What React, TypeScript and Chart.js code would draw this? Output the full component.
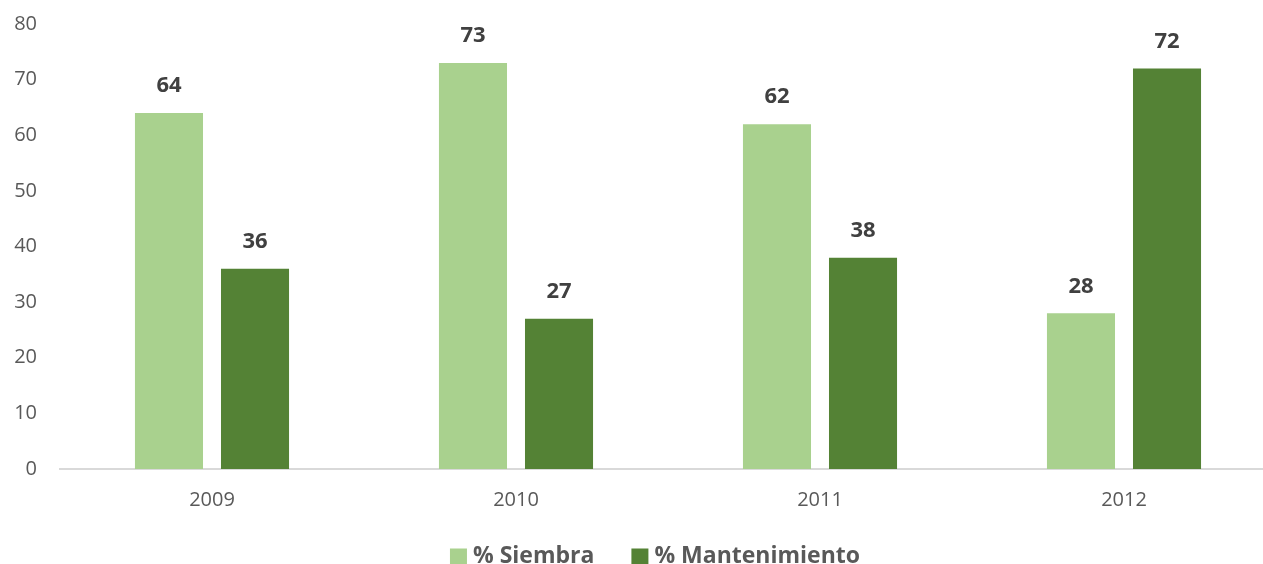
import React, { useEffect, useRef } from "react";
import { Chart, registerables } from "chart.js";

Chart.register(...registerables);

const categories = ["2009", "2010", "2011", "2012"];
const siembra = [64, 73, 62, 28];
const mantenimiento = [36, 27, 38, 72];
const yTicks = [0, 10, 20, 30, 40, 50, 60, 70, 80];

const FONT = "'Open Sans', 'DejaVu Sans', sans-serif";

const valueLabels = {
  id: "valueLabels",
  afterDatasetsDraw(chart: any) {
    const ctx = chart.ctx;
    ctx.save();
    ctx.font = `bold 22px ${FONT}`;
    ctx.fillStyle = "#404040";
    ctx.textAlign = "center";
    ctx.textBaseline = "middle";
    chart.data.datasets.forEach((ds: any, i: number) => {
      const meta = chart.getDatasetMeta(i);
      meta.data.forEach((bar: any, j: number) => {
        ctx.fillText(String(ds.data[j]), bar.x, bar.y - 27);
      });
    });
    ctx.restore();
  },
};

const bottomLegend = {
  id: "bottomLegend",
  afterDraw(chart: any) {
    const ctx = chart.ctx;
    const datasets = chart.data.datasets;
    ctx.save();
    ctx.font = `bold 23px ${FONT}`;
    ctx.textBaseline = "middle";
    ctx.textAlign = "left";
    const box = 17;
    const gapText = 6;
    const gapItem = 37;
    const widths = datasets.map((ds: any) => ctx.measureText(ds.label).width);
    const total =
      widths.reduce((a: number, w: number) => a + box + gapText + w, 0) +
      gapItem * (datasets.length - 1);
    let x = chart.width / 2 - total / 2;
    const cy = chart.chartArea.bottom + 87;
    datasets.forEach((ds: any, i: number) => {
      ctx.fillStyle = ds.backgroundColor;
      ctx.fillRect(x, cy - box / 2 + 1, box, box);
      x += box + gapText;
      ctx.fillStyle = "#595959";
      ctx.fillText(ds.label, x, cy);
      x += widths[i] + gapItem;
    });
    ctx.restore();
  },
};

export default function App() {
  const ref = useRef<HTMLCanvasElement | null>(null);
  useEffect(() => {
    const chart = new Chart(ref.current as HTMLCanvasElement, {
      type: "bar",
      data: {
        labels: categories,
        datasets: [
          {
            label: "% Siembra",
            data: siembra,
            backgroundColor: "#A9D18E",
            barPercentage: 0.791,
            categoryPercentage: 0.566,
          },
          {
            label: "% Mantenimiento",
            data: mantenimiento,
            backgroundColor: "#548235",
            barPercentage: 0.791,
            categoryPercentage: 0.566,
          },
        ],
      },
      options: {
        animation: false,
        responsive: false,
        maintainAspectRatio: false,
        layout: { padding: { top: 24, right: 34, left: 0, bottom: 69 } },
        scales: {
          x: {
            grid: { display: false, drawTicks: false },
            border: { display: true, color: "#D9D9D9", width: 2 },
            ticks: {
              color: "#595959",
              font: { family: FONT, size: 20 },
              padding: 19,
            },
          },
          y: {
            min: 0,
            max: 80,
            afterFit(scale: any) {
              scale.width = 60;
              scale.paddingTop = 0;
              scale.paddingBottom = 0;
            },
            afterBuildTicks(scale: any) {
              scale.ticks = yTicks.map((v) => ({ value: v }));
            },
            grid: { display: false, drawTicks: false },
            border: { display: false },
            ticks: {
              color: "#595959",
              font: { family: FONT, size: 20 },
              padding: 23,
            },
          },
        },
        plugins: {
          legend: { display: false },
          tooltip: { enabled: false },
        },
      },
      plugins: [valueLabels, bottomLegend],
    } as any);
    return () => chart.destroy();
  }, []);
  return (
    <div style={{ position: "fixed", left: 0, top: 0 }}>
      <canvas ref={ref} width={1310} height={600} style={{ display: "block" }} />
    </div>
  );
}
